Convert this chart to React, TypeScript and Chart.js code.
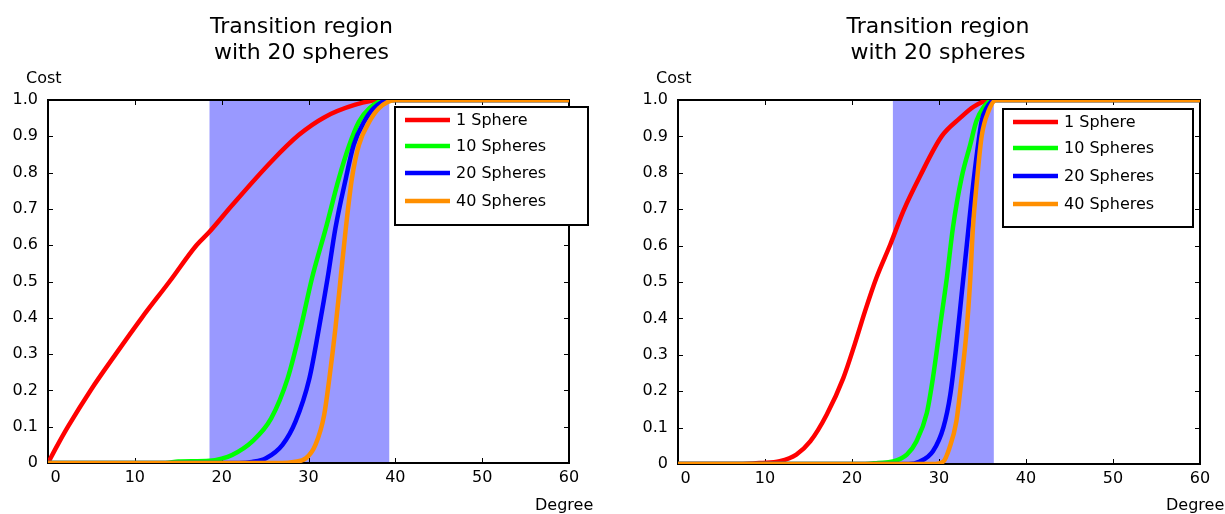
import React, { useEffect, useRef } from "react";
import { Chart, registerables } from "chart.js";

Chart.register(...registerables);

const FONT = "'DejaVu Sans', Verdana, sans-serif";
const TITLE_LINES = ["Transition region", "with 20 spheres"];
const SERIES_LABELS = ["1 Sphere", "10 Spheres", "20 Spheres", "40 Spheres"];
const SERIES_COLORS = ["#ff0000", "#00ff00", "#0000ff", "#ff8f00"];
const BAND_COLOR = "#9999ff";
const X_LABEL = "Degree";
const Y_LABEL = "Cost";

// Left chart: [degree, cost]
const LEFT_RED = [[0, 0], [1, 0.045], [2.3, 0.1], [4.9, 0.2], [7.8, 0.3], [10.8, 0.4], [14.0, 0.5], [17.1, 0.6], [18.6, 0.637], [21.2, 0.71], [25.7, 0.83], [28.9, 0.904], [31.8, 0.952], [35.4, 0.987], [38.1, 1.0], [60, 1.0]];
const LEFT_GREEN = [[0, 0], [13.5, 0], [15, 0.004], [18.6, 0.006], [20, 0.012], [21.2, 0.022], [23.5, 0.059], [25.7, 0.123], [27.6, 0.233], [29.1, 0.371], [30.4, 0.509], [32.0, 0.647], [33.5, 0.784], [34.7, 0.876], [35.8, 0.94], [37.0, 0.977], [38.9, 1.0], [60, 1.0]];
const LEFT_BLUE = [[0, 0], [22, 0], [23.5, 0.003], [25.1, 0.013], [27.0, 0.05], [28.5, 0.114], [30.1, 0.233], [31.2, 0.371], [32.2, 0.509], [33.1, 0.647], [34.3, 0.784], [35.2, 0.876], [36.4, 0.94], [37.5, 0.977], [39.3, 1.0], [60, 1.0]];
const LEFT_ORANGE = [[0, 0], [27, 0], [28.3, 0.003], [29.7, 0.013], [30.8, 0.05], [31.8, 0.132], [32.4, 0.233], [33.1, 0.371], [33.7, 0.509], [34.3, 0.647], [35.0, 0.784], [35.8, 0.876], [37.0, 0.94], [38.1, 0.977], [40.0, 1.0], [60, 1.0]];
const LEFT_BAND = [18.6, 39.3];

// Right chart: [degree, cost]
const RIGHT_RED = [[0, 0], [7, 0], [9.5, 0.003], [11.7, 0.008], [13.6, 0.026], [15.2, 0.062], [17.1, 0.136], [19.0, 0.236], [20.3, 0.328], [21.5, 0.42], [22.8, 0.511], [24.4, 0.603], [25.9, 0.695], [27.8, 0.79], [30.3, 0.9], [32.4, 0.95], [34.0, 0.982], [35.9, 1.0], [60, 1.0]];
const RIGHT_GREEN = [[0, 0], [21.5, 0], [23, 0.003], [24.7, 0.007], [26.3, 0.026], [27.4, 0.062], [28.6, 0.14], [29.3, 0.236], [30.1, 0.374], [30.9, 0.511], [31.6, 0.649], [32.6, 0.787], [33.6, 0.878], [34.3, 0.942], [35.1, 0.979], [36.1, 1.0], [60, 1.0]];
const RIGHT_BLUE = [[0, 0], [26.5, 0], [27.8, 0.007], [29.3, 0.035], [30.5, 0.1], [31.3, 0.191], [32.0, 0.328], [32.6, 0.466], [33.2, 0.603], [33.8, 0.741], [34.5, 0.878], [34.9, 0.942], [35.5, 0.979], [36.4, 1.0], [60, 1.0]];
const RIGHT_ORANGE = [[0, 0], [29.3, 0], [30.5, 0.007], [31.2, 0.044], [32.0, 0.118], [32.6, 0.236], [33.2, 0.374], [33.6, 0.511], [33.9, 0.649], [34.4, 0.787], [34.9, 0.9], [35.7, 0.97], [36.6, 1.0], [60, 1.0]];
const RIGHT_BAND = [24.7, 36.3];

const H = 514;

type Geo = {
  left: number;
  width: number;
  plot: { left: number; right: number; top: number; bottom: number };
  titleX: number;
  legend: { x: number; y: number; w: number; h: number; rows: number[] };
};

function CostChart({ geo, series, band }: { geo: Geo; series: number[][][]; band: number[] }) {
  const ref = useRef<HTMLCanvasElement | null>(null);

  useEffect(() => {
    const canvas = ref.current;
    if (!canvas) return;
    const L = geo.left;
    const plotLeft = geo.plot.left - L;
    const plotRight = geo.plot.right - L;

    const decor = {
      id: "decor",
      beforeDatasetsDraw(chart: any) {
        const { ctx, chartArea: a, scales } = chart;
        const x = scales.x;
        const y = scales.y;
        ctx.save();
        const x0 = x.getPixelForValue(band[0]);
        const x1 = x.getPixelForValue(band[1]);
        ctx.fillStyle = BAND_COLOR;
        ctx.fillRect(x0, a.top, x1 - x0, a.bottom - a.top);
        ctx.strokeStyle = "#000";
        ctx.lineWidth = 1;
        ctx.beginPath();
        x.ticks.forEach((t: any, i: number) => {
          if (i === 0 || i === x.ticks.length - 1) return;
          const px = Math.round(x.getPixelForValue(t.value)) + 0.5;
          ctx.moveTo(px, a.top);
          ctx.lineTo(px, a.top + 5);
          ctx.moveTo(px, a.bottom);
          ctx.lineTo(px, a.bottom - 5);
        });
        y.ticks.forEach((t: any, i: number) => {
          if (i === 0 || i === y.ticks.length - 1) return;
          const py = Math.round(y.getPixelForValue(t.value)) + 0.5;
          ctx.moveTo(a.left, py);
          ctx.lineTo(a.left + 5, py);
          ctx.moveTo(a.right, py);
          ctx.lineTo(a.right - 5, py);
        });
        ctx.stroke();
        ctx.lineWidth = 2;
        ctx.strokeRect(a.left, a.top, a.right - a.left, a.bottom - a.top);
        ctx.restore();
      },
      afterDraw(chart: any) {
        const { ctx, chartArea: a } = chart;
        ctx.save();
        ctx.fillStyle = "#000";
        ctx.font = `22px ${FONT}`;
        ctx.textAlign = "center";
        ctx.textBaseline = "alphabetic";
        ctx.fillText(TITLE_LINES[0], geo.titleX - L, 33);
        ctx.fillText(TITLE_LINES[1], geo.titleX - L, 59);
        ctx.font = `16px ${FONT}`;
        ctx.textAlign = "left";
        ctx.fillText(Y_LABEL, a.left - 22, 83);
        ctx.fillText(X_LABEL, a.right - 34, 510);
        const lg = geo.legend;
        const bx = lg.x - L;
        ctx.fillStyle = "#fff";
        ctx.fillRect(bx, lg.y, lg.w, lg.h);
        ctx.strokeStyle = "#000";
        ctx.lineWidth = 2;
        ctx.strokeRect(bx, lg.y, lg.w, lg.h);
        ctx.textBaseline = "middle";
        chart.data.datasets.forEach((ds: any, i: number) => {
          const ry = lg.rows[i];
          ctx.strokeStyle = ds.borderColor;
          ctx.lineWidth = 4.5;
          ctx.beginPath();
          ctx.moveTo(bx + 10, ry);
          ctx.lineTo(bx + 55, ry);
          ctx.stroke();
          ctx.fillStyle = "#000";
          ctx.fillText(ds.label, bx + 61, ry + 1);
        });
        ctx.restore();
      },
    };

    const chart = new Chart(canvas, {
      type: "line",
      data: {
        datasets: SERIES_LABELS.map((label, i) => ({
          label,
          data: series[i].map(([x, y]) => ({ x, y })),
          borderColor: SERIES_COLORS[i],
          backgroundColor: SERIES_COLORS[i],
          borderWidth: 4.5,
          pointRadius: 0,
          cubicInterpolationMode: "monotone" as const,
          order: 4 - i,
        })),
      },
      options: {
        animation: false,
        responsive: false,
        events: [],
        layout: { padding: { left: 0, top: geo.plot.top, right: geo.width - plotRight, bottom: 0 } },
        plugins: {
          legend: { display: false },
          title: { display: false },
          tooltip: { enabled: false },
        },
        scales: {
          x: {
            type: "linear",
            min: 0,
            max: 60,
            grid: { display: false, drawTicks: false },
            border: { display: false },
            ticks: {
              stepSize: 10,
              padding: 5,
              color: "#000",
              maxRotation: 0,
              autoSkip: false,
              font: { family: FONT, size: 16 },
              callback: (v: any) => (Number(v) === 0 ? "   0" : String(v)),
            },
            afterFit: (s: any) => {
              s.height = H - geo.plot.bottom;
            },
          },
          y: {
            type: "linear",
            min: 0,
            max: 1,
            grid: { display: false, drawTicks: false },
            border: { display: false },
            ticks: {
              stepSize: 0.1,
              padding: 10,
              color: "#000",
              font: { family: FONT, size: 16 },
              callback: (v: any) => (Number(v) === 0 ? "0" : Number(v).toFixed(1)),
            },
            afterFit: (s: any) => {
              s.width = plotLeft;
            },
          },
        },
      } as any,
      plugins: [decor],
    });
    return () => chart.destroy();
  }, [geo, series, band]);

  return (
    <canvas
      ref={ref}
      width={geo.width}
      height={H}
      style={{ position: "absolute", left: geo.left, top: 0, width: geo.width, height: H }}
    />
  );
}

const LEFT_GEO: Geo = {
  left: 10,
  width: 602,
  plot: { left: 48, right: 569, top: 100, bottom: 463 },
  titleX: 301.5,
  legend: { x: 395, y: 107, w: 193, h: 118, rows: [120, 146, 173, 201] },
};

const RIGHT_GEO: Geo = {
  left: 612,
  width: 613,
  plot: { left: 678, right: 1200, top: 100, bottom: 464 },
  titleX: 938,
  legend: { x: 1003, y: 109, w: 190, h: 118, rows: [122, 148, 176, 204] },
};

const LEFT_SERIES = [LEFT_RED, LEFT_GREEN, LEFT_BLUE, LEFT_ORANGE];
const RIGHT_SERIES = [RIGHT_RED, RIGHT_GREEN, RIGHT_BLUE, RIGHT_ORANGE];

export default function App() {
  return (
    <div style={{ position: "absolute", left: 0, top: 0, width: 1225, height: H, background: "#fff", overflow: "hidden" }}>
      <CostChart geo={LEFT_GEO} series={LEFT_SERIES} band={LEFT_BAND} />
      <CostChart geo={RIGHT_GEO} series={RIGHT_SERIES} band={RIGHT_BAND} />
    </div>
  );
}
